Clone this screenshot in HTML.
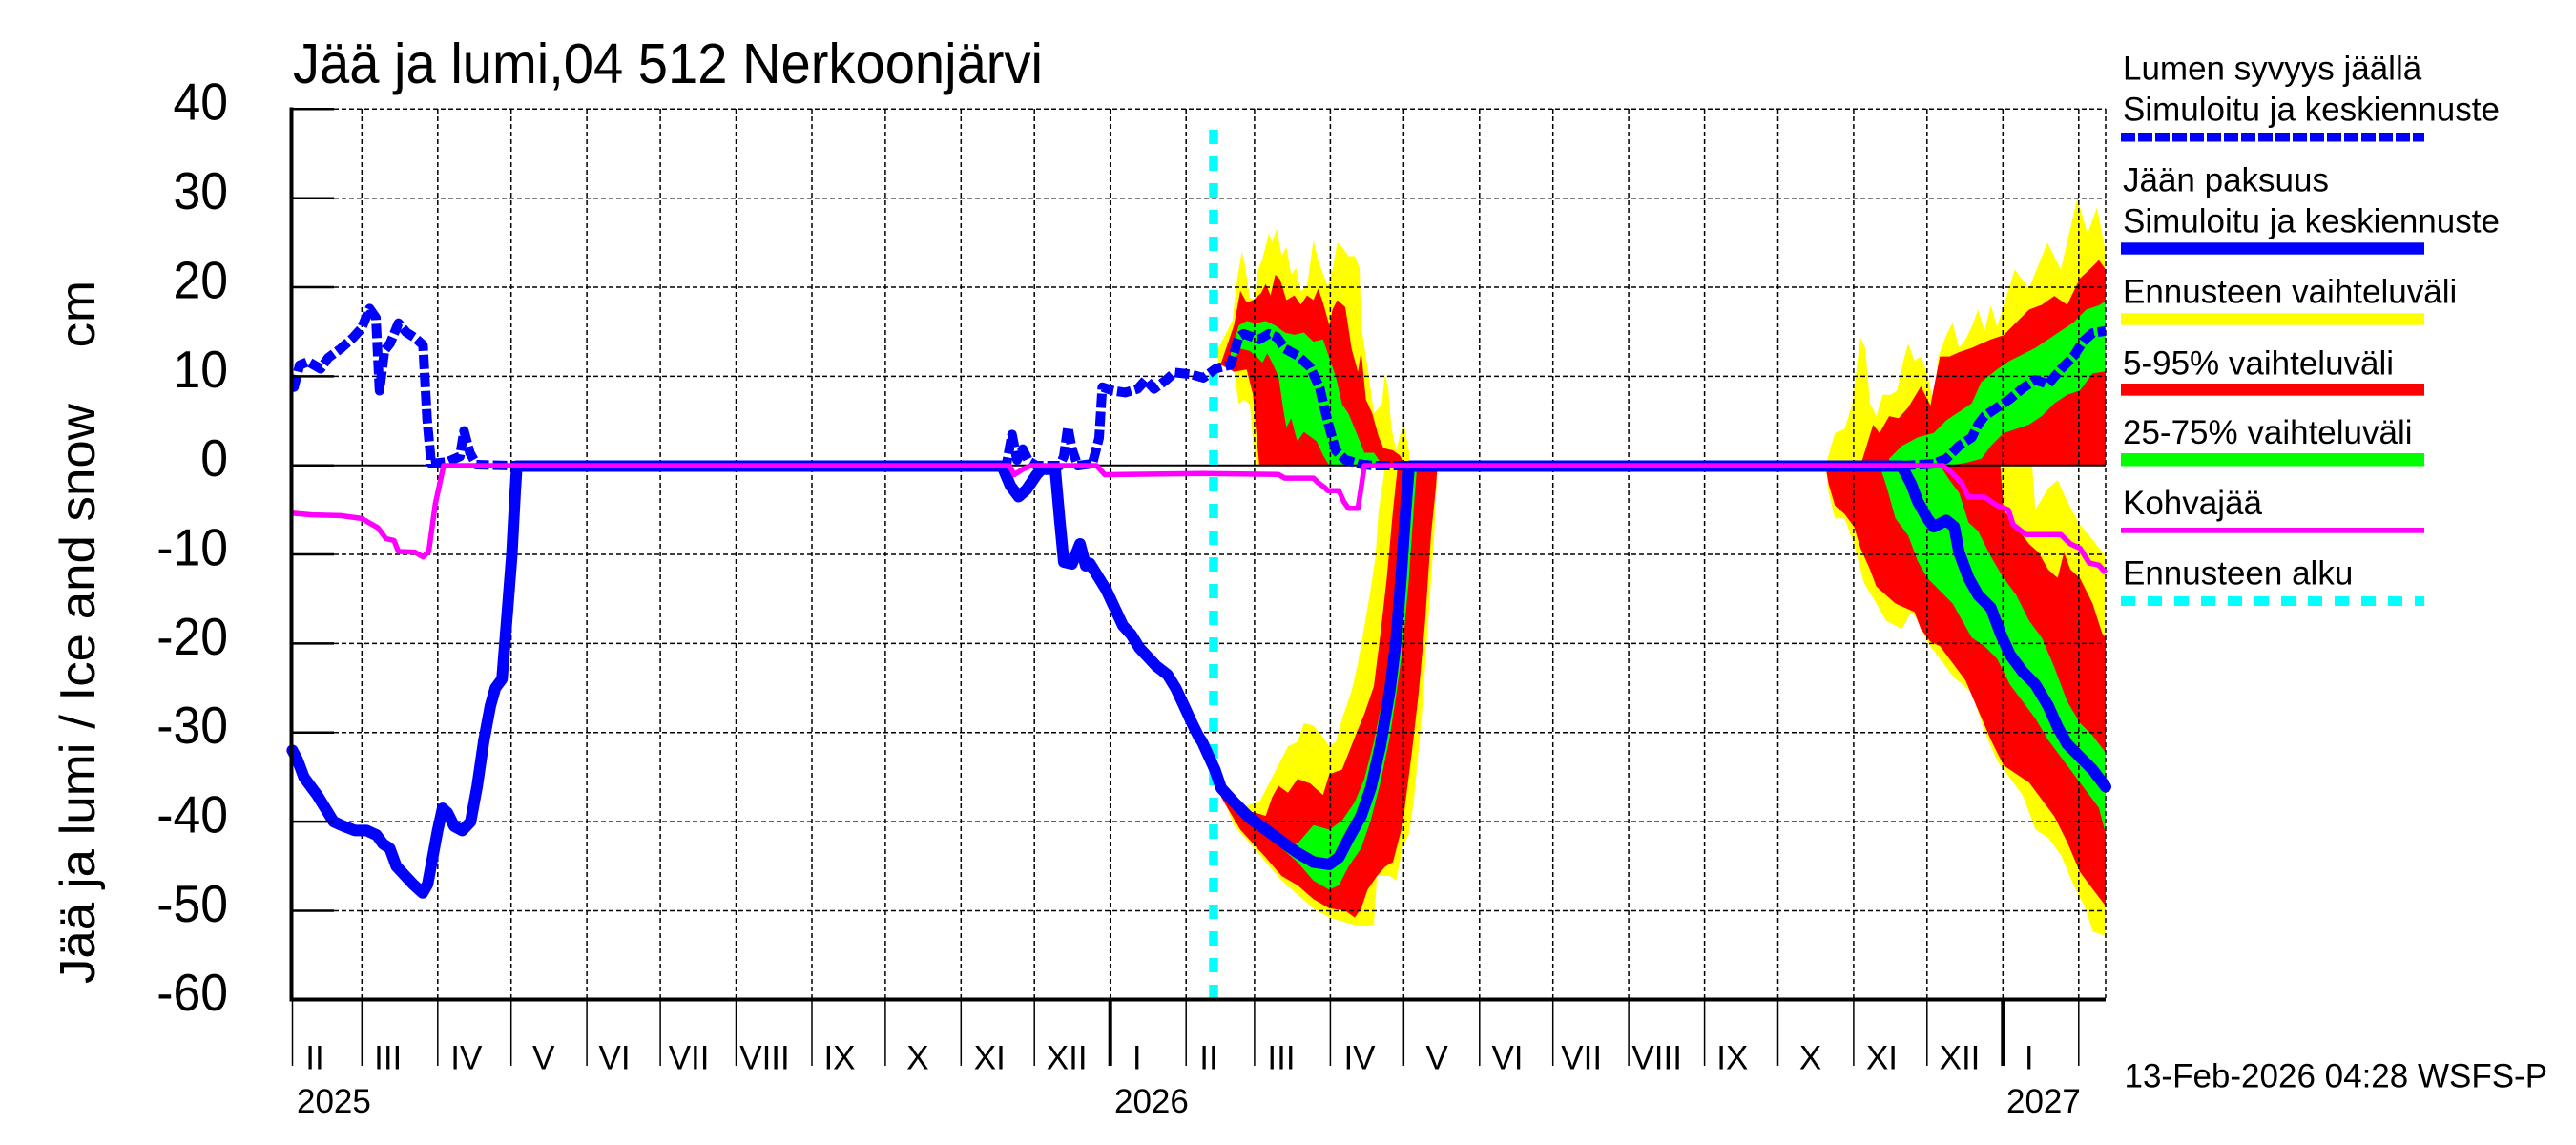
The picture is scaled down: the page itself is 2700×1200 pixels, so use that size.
<!DOCTYPE html>
<html><head><meta charset="utf-8"><style>
html,body{margin:0;padding:0;background:#fff;}
svg{display:block;}
text{font-family:"Liberation Sans",Arial,sans-serif;fill:#000;}
</style></head><body>
<svg width="2700" height="1200" viewBox="0 0 2700 1200" xmlns="http://www.w3.org/2000/svg">
<rect width="2700" height="1200" fill="#fff"/>

<!-- forecast band fills: spring 2026 -->
<g transform="translate(1260,220) scale(0.333333,0.484731)">
<polygon fill="#ffff00" points="50,300 95,240 110,150 125,90 135,120 150,190 165,195 175,130 190,105 210,50 220,70 235,40 250,100 265,80 280,140 295,125 310,175 330,165 350,65 365,110 395,165 410,130 425,70 440,80 460,100 480,100 495,125 500,250 520,340 540,440 565,420 575,355 585,385 595,470 610,520 625,480 635,465 650,520 655,553 170,553 160,500 150,420 130,410 115,420 100,345 50,335"/>
<polygon fill="#ff0000" points="60,330 100,250 120,175 140,200 160,195 185,180 200,160 215,185 230,140 245,150 265,195 290,185 310,205 330,185 350,195 365,170 380,200 400,250 410,215 425,195 450,210 470,300 490,350 500,305 515,410 535,440 555,490 570,515 600,520 620,530 635,545 640,553 180,553 175,520 160,400 140,345 100,350 60,335"/>
<polygon fill="#00ff00" points="90,310 115,250 140,240 170,245 200,240 230,250 260,265 290,270 320,265 350,285 380,280 395,310 420,360 440,420 460,440 490,490 510,525 540,525 560,545 565,553 400,553 380,530 360,500 340,490 320,480 300,500 295,490 280,450 265,470 255,430 240,360 220,330 205,310 190,330 175,320 150,305 120,300 90,340"/>
<polygon fill="#ffff00" points="60,1260 130,1290 180,1280 210,1240 240,1200 270,1160 300,1150 320,1110 350,1115 380,1140 400,1160 420,1150 440,1100 470,1040 490,980 510,900 530,820 545,750 555,650 570,580 575,553 740,553 730,700 710,900 690,1100 665,1280 650,1350 630,1380 610,1450 590,1440 550,1440 540,1545 500,1550 450,1540 400,1530 350,1510 300,1480 250,1450 200,1410 150,1370 100,1330"/>
<polygon fill="#ff0000" points="60,1265 150,1300 200,1310 220,1270 240,1245 270,1260 300,1230 340,1240 380,1265 400,1220 440,1210 480,1140 510,1090 540,1030 560,920 580,800 600,650 615,553 740,553 735,600 720,700 700,900 680,1050 660,1170 630,1330 600,1410 575,1420 550,1440 520,1470 500,1510 480,1530 450,1515 400,1510 350,1490 300,1460 250,1440 200,1400 160,1370 120,1340 60,1270"/>
<polygon fill="#00ff00" points="190,1340 250,1360 300,1370 350,1330 400,1340 440,1320 480,1280 510,1230 540,1150 570,1050 590,950 610,820 625,680 635,560 640,553 690,553 675,560 665,650 650,800 630,950 610,1050 590,1140 560,1240 530,1320 500,1380 460,1420 430,1460 400,1470 350,1450 300,1410 250,1380 190,1345"/>
</g>

<!-- forecast band fills: winter 2026-27 -->
<g transform="translate(1900,320) scale(0.333333,0.446429)">
<polygon fill="#ffff00" points="40,376 70,300 100,290 125,230 150,75 165,100 180,230 200,260 220,210 245,210 265,200 285,130 300,90 320,130 340,120 360,160 380,230 395,120 420,70 440,40 460,100 480,80 500,50 520,10 540,60 560,0 580,50 600,0 635,-84 680,-40 738,-147 780,-84 832,-252 864,-168 894,-230 921,-126 921,376"/>
<polygon fill="#ff0000" points="150,376 190,280 210,300 240,260 270,265 300,240 340,190 370,235 400,120 430,120 460,110 500,100 530,90 560,80 600,70 640,40 680,10 720,-1 760,-22 800,-1 840,-63 870,-84 900,-106 921,-84 921,376"/>
<polygon fill="#00ff00" points="240,360 280,330 330,310 380,300 420,270 460,250 500,230 530,180 580,150 620,130 660,115 700,100 740,80 780,60 820,40 860,10 900,0 921,-10 921,155 880,160 840,200 800,210 760,230 720,260 680,280 640,290 600,300 560,330 530,360 480,370 430,376 240,376"/>
<polygon fill="#ffff00" points="40,376 595,376 690,378 700,480 740,430 770,410 800,460 840,515 880,550 921,590 921,1480 880,1470 860,1420 820,1360 780,1290 740,1250 700,1230 660,1150 620,1110 580,1070 540,1000 500,910 440,870 400,830 360,790 330,740 310,720 280,760 230,740 200,700 160,650 130,560 100,500 70,500 50,440"/>
<polygon fill="#ff0000" points="40,376 590,376 600,480 640,520 680,560 710,580 740,620 770,640 790,580 810,620 840,640 880,700 910,770 921,780 921,1410 880,1370 840,1330 800,1260 760,1200 720,1160 680,1120 640,1100 600,1080 560,1020 520,950 480,880 440,840 400,800 370,790 340,760 320,720 260,700 200,660 180,620 150,570 130,520 100,490 70,470 50,420"/>
<polygon fill="#00ff00" points="210,376 400,376 430,410 460,440 490,510 520,530 560,590 600,640 640,680 680,740 720,780 760,850 800,930 840,980 880,1010 921,1050 921,1240 900,1180 860,1140 820,1100 780,1060 740,1020 700,970 660,930 620,890 580,830 540,800 500,780 470,740 440,700 400,670 360,640 330,600 300,540 260,500 230,420"/>
</g>

<!-- grid -->
<g stroke="#000" stroke-width="1.5" stroke-dasharray="5 3" fill="none">
<line x1="350" y1="114.3" x2="2207" y2="114.3"/>
<line x1="350" y1="207.7" x2="2207" y2="207.7"/>
<line x1="350" y1="301" x2="2207" y2="301"/>
<line x1="350" y1="394.4" x2="2207" y2="394.4"/>
<line x1="350" y1="581" x2="2207" y2="581"/>
<line x1="350" y1="674.4" x2="2207" y2="674.4"/>
<line x1="350" y1="767.8" x2="2207" y2="767.8"/>
<line x1="350" y1="861.1" x2="2207" y2="861.1"/>
<line x1="350" y1="954.5" x2="2207" y2="954.5"/>
<line x1="379.3" y1="114" x2="379.3" y2="1046"/>
<line x1="458.8" y1="114" x2="458.8" y2="1046"/>
<line x1="535.7" y1="114" x2="535.7" y2="1046"/>
<line x1="615.1" y1="114" x2="615.1" y2="1046"/>
<line x1="692.1" y1="114" x2="692.1" y2="1046"/>
<line x1="771.5" y1="114" x2="771.5" y2="1046"/>
<line x1="851" y1="114" x2="851" y2="1046"/>
<line x1="927.9" y1="114" x2="927.9" y2="1046"/>
<line x1="1007.3" y1="114" x2="1007.3" y2="1046"/>
<line x1="1084.2" y1="114" x2="1084.2" y2="1046"/>
<line x1="1163.7" y1="114" x2="1163.7" y2="1046"/>
<line x1="1243.2" y1="114" x2="1243.2" y2="1046"/>
<line x1="1314.9" y1="114" x2="1314.9" y2="1046"/>
<line x1="1394.4" y1="114" x2="1394.4" y2="1046"/>
<line x1="1471.3" y1="114" x2="1471.3" y2="1046"/>
<line x1="1550.8" y1="114" x2="1550.8" y2="1046"/>
<line x1="1627.7" y1="114" x2="1627.7" y2="1046"/>
<line x1="1707.1" y1="114" x2="1707.1" y2="1046"/>
<line x1="1786.6" y1="114" x2="1786.6" y2="1046"/>
<line x1="1863.5" y1="114" x2="1863.5" y2="1046"/>
<line x1="1942.9" y1="114" x2="1942.9" y2="1046"/>
<line x1="2019.8" y1="114" x2="2019.8" y2="1046"/>
<line x1="2099.3" y1="114" x2="2099.3" y2="1046"/>
<line x1="2178.8" y1="114" x2="2178.8" y2="1046"/>
<line x1="2207" y1="114" x2="2207" y2="1046"/>
</g>
<!-- zero line -->
<line x1="305" y1="487.8" x2="2207" y2="487.8" stroke="#000" stroke-width="2"/>

<!-- forecast start -->
<line x1="1272" y1="1047" x2="1272" y2="124" stroke="#00ffff" stroke-width="9.5" stroke-dasharray="15 13"/>

<!-- ice thickness -->
<polyline fill="none" stroke="#0000ff" stroke-width="12" stroke-linejoin="round" stroke-linecap="round" points="306.4,786.4 311.5,795.8 318.5,814.4 325.4,823.8 332.3,833.1 341,847.1 349.6,861.1 360,865.8 372.1,870.4 384.2,870.4 394.6,875.1 401.5,884.4 408.5,889.1 415.4,907.8 424,917.1 432.7,926.4 443,935.8 448.3,926.4 453.5,898.4 458.7,870.4 463.9,847.1 469,851.8 476,865.8 484.6,870.4 493.3,861.1 500.2,823.8 507,777.1 514,739.7 519.2,721.1 526.2,711.7 531.4,646.4 536.5,581.1 540,515.7 541.7,488.5 1050.4,488.5 1059,509 1067.6,520.5 1076,513 1086.5,497.5 1091.7,491.8 1106,491.8 1110.6,543.4 1115,589 1123.6,591 1132,570 1138,593 1142.3,590.4 1151,604.4 1159.6,618.4 1168.3,637.1 1177,655.7 1185.6,665.1 1194.3,679.1 1203,688.4 1211.6,697.7 1223.7,707.1 1232.3,721.1 1241,739.7 1249.6,758.4 1256.6,772.4 1260,777.4 1273.3,806.5 1280,825.9 1293.3,840.5 1310,857.4 1326.7,869.5 1343.3,881.7 1360,893.8 1376.7,903.5 1393.3,905.9 1403.3,898.6 1413.3,879.2 1426.7,855 1436.7,825.9 1446.7,782.3 1456.7,724.1 1463.3,670.8 1468.3,607.8 1473.3,535.1 1476.7,491.5 1478.3,488.5 1993.3,488.5 2003.3,507.5 2010,525.4 2020,543.2 2026.7,552.1 2040,545.4 2048.3,552.1 2053.3,578.9 2063.3,605.7 2073.3,623.6 2086.7,637 2096.7,663.8 2106.7,686.1 2120,703.9 2133.3,717.3 2146.7,739.6 2156.7,762 2166.7,779.8 2180,793.2 2193.3,806.6 2207,824.5"/>

<!-- snow depth -->
<polyline fill="none" stroke="#0000ff" stroke-width="10" stroke-dasharray="15 4" stroke-linejoin="round" points="306,405 308.2,405.7 314,382.7 323,379 336,386.5 344,375 357,365.5 370,354 379,344 387.4,323.4 394,333 397.8,409.5 403,367.4 409,359.7 417.6,338.7 426,348.3 434.8,354 443.4,361.6 447.7,440 452,486 469,484 482,478.4 486.4,451.6 492.5,474.5 499.4,487 538,488 1054.7,488 1060.7,455.4 1066,482 1072,470.7 1078,483 1086.5,488 1110.6,488 1115,478.4 1119.3,447.8 1123.6,470.7 1129.6,488 1145,486 1152,459 1155.4,405.7 1166.6,409.5 1179.5,411.4 1192.4,407.6 1201,398 1209.6,407.6 1222.6,398 1231,390.4 1248.4,392.3 1261.3,396 1274.2,386.5 1280,384.8 1290,382.4 1298.3,353.3 1303.3,349.9 1313.3,353.3 1320,355.7 1330,349.9 1338.3,353.3 1346.7,365.4 1360,372.7 1373.3,384.8 1383.3,406.6 1388.3,428.4 1393.3,447.8 1400,472.1 1410,481.8 1426.7,486.6 1440,488 1993.3,488 2026.7,486.1 2040,480.7 2053.3,467.3 2066.7,458.4 2073.3,445 2080,436.1 2093.3,427.1 2106.7,418.2 2120,407 2133.3,398.1 2146.7,402.6 2160,387 2173.3,373.6 2183.3,357.9 2193.3,349 2207,346.8"/>

<!-- kohvajää -->
<polyline fill="none" stroke="#ff00ff" stroke-width="5.5" stroke-linejoin="round" points="306,537.7 327,539.6 357,540.4 379,543.4 396,553 404.6,564.5 413,566.4 417.6,578 434.8,578.6 443.4,583.6 449.4,578 456.3,528 465,488 1058,488 1063,497.5 1072,491.8 1080.5,488 1149.4,488 1158,497.5 1260,496.3 1340,497.3 1346.7,501.1 1376.7,501.1 1381.7,506 1388.3,510.8 1391.7,514.2 1403.3,514.2 1408.3,525.4 1413.3,532.7 1423.3,532.7 1426.7,510.8 1430,488 2036.7,488 2046.7,496.3 2056.7,507.5 2063.3,520.9 2080,520.9 2093.3,529.8 2105,534.3 2110,549.9 2123.3,560.2 2160,560.2 2170,570 2180,574.5 2190,590.1 2200,592.3 2207,600.4"/>

<!-- axes -->
<line x1="305.5" y1="112.5" x2="305.5" y2="1049.5" stroke="#000" stroke-width="4"/>
<line x1="303.5" y1="1047.5" x2="2207" y2="1047.5" stroke="#000" stroke-width="4"/>
<g stroke="#000" stroke-width="2.5">
<line x1="305" y1="114.3" x2="350" y2="114.3"/>
<line x1="305" y1="207.7" x2="350" y2="207.7"/>
<line x1="305" y1="301" x2="350" y2="301"/>
<line x1="305" y1="394.4" x2="350" y2="394.4"/>
<line x1="305" y1="487.8" x2="350" y2="487.8"/>
<line x1="305" y1="581" x2="350" y2="581"/>
<line x1="305" y1="674.4" x2="350" y2="674.4"/>
<line x1="305" y1="767.8" x2="350" y2="767.8"/>
<line x1="305" y1="861.1" x2="350" y2="861.1"/>
<line x1="305" y1="954.5" x2="350" y2="954.5"/>
</g>
<!-- month ticks below axis -->
<g stroke="#000" stroke-width="1.5">
<line x1="306.5" y1="1049" x2="306.5" y2="1117"/>
<line x1="379.3" y1="1049" x2="379.3" y2="1117"/>
<line x1="458.8" y1="1049" x2="458.8" y2="1117"/>
<line x1="535.7" y1="1049" x2="535.7" y2="1117"/>
<line x1="615.1" y1="1049" x2="615.1" y2="1117"/>
<line x1="692.1" y1="1049" x2="692.1" y2="1117"/>
<line x1="771.5" y1="1049" x2="771.5" y2="1117"/>
<line x1="851" y1="1049" x2="851" y2="1117"/>
<line x1="927.9" y1="1049" x2="927.9" y2="1117"/>
<line x1="1007.3" y1="1049" x2="1007.3" y2="1117"/>
<line x1="1084.2" y1="1049" x2="1084.2" y2="1117"/>
<line x1="1243.2" y1="1049" x2="1243.2" y2="1117"/>
<line x1="1314.9" y1="1049" x2="1314.9" y2="1117"/>
<line x1="1394.4" y1="1049" x2="1394.4" y2="1117"/>
<line x1="1471.3" y1="1049" x2="1471.3" y2="1117"/>
<line x1="1550.8" y1="1049" x2="1550.8" y2="1117"/>
<line x1="1627.7" y1="1049" x2="1627.7" y2="1117"/>
<line x1="1707.1" y1="1049" x2="1707.1" y2="1117"/>
<line x1="1786.6" y1="1049" x2="1786.6" y2="1117"/>
<line x1="1863.5" y1="1049" x2="1863.5" y2="1117"/>
<line x1="1942.9" y1="1049" x2="1942.9" y2="1117"/>
<line x1="2019.8" y1="1049" x2="2019.8" y2="1117"/>
<line x1="2178.8" y1="1049" x2="2178.8" y2="1117"/>
</g>
<g stroke="#000" stroke-width="4">
<line x1="1163.7" y1="1049" x2="1163.7" y2="1117"/>
<line x1="2099.3" y1="1049" x2="2099.3" y2="1117"/>
</g>

<!-- title -->
<text x="307" y="86.8" font-size="59" textLength="786" lengthAdjust="spacingAndGlyphs">Jää ja lumi,04 512 Nerkoonjärvi</text>

<!-- y tick labels -->
<g font-size="55" text-anchor="end">
<text transform="translate(239,125.7) scale(0.94,1)">40</text>
<text transform="translate(239,219.1) scale(0.94,1)">30</text>
<text transform="translate(239,312.4) scale(0.94,1)">20</text>
<text transform="translate(239,405.8) scale(0.94,1)">10</text>
<text transform="translate(239,499.2) scale(0.94,1)">0</text>
<text transform="translate(239,592.4) scale(0.94,1)">-10</text>
<text transform="translate(239,685.8) scale(0.94,1)">-20</text>
<text transform="translate(239,779.2) scale(0.94,1)">-30</text>
<text transform="translate(239,872.5) scale(0.94,1)">-40</text>
<text transform="translate(239,965.9) scale(0.94,1)">-50</text>
<text transform="translate(239,1059.2) scale(0.94,1)">-60</text>
</g>

<!-- y axis label -->
<text transform="translate(99,1031) rotate(-90)" font-size="52" style="white-space:pre" textLength="737" lengthAdjust="spacingAndGlyphs">Jää ja lumi / Ice and snow    cm</text>

<!-- month labels -->
<g font-size="35" text-anchor="middle">
<text x="330" y="1120.7">II</text>
<text x="406.7" y="1120.7">III</text>
<text x="488.8" y="1120.7">IV</text>
<text x="569.7" y="1120.7">V</text>
<text x="644.1" y="1120.7">VI</text>
<text x="722.1" y="1120.7">VII</text>
<text x="801.5" y="1120.7">VIII</text>
<text x="880" y="1120.7">IX</text>
<text x="961.9" y="1120.7">X</text>
<text x="1037.3" y="1120.7">XI</text>
<text x="1118.2" y="1120.7">XII</text>
<text x="1191.7" y="1120.7">I</text>
<text x="1267" y="1120.7">II</text>
<text x="1343" y="1120.7">III</text>
<text x="1425" y="1120.7">IV</text>
<text x="1506" y="1120.7">V</text>
<text x="1580" y="1120.7">VI</text>
<text x="1657.7" y="1120.7">VII</text>
<text x="1736.7" y="1120.7">VIII</text>
<text x="1815.8" y="1120.7">IX</text>
<text x="1897.5" y="1120.7">X</text>
<text x="1972.5" y="1120.7">XI</text>
<text x="2054" y="1120.7">XII</text>
<text x="2126.7" y="1120.7">I</text>
</g>
<g font-size="35">
<text x="311" y="1166">2025</text>
<text x="1168" y="1166">2026</text>
<text x="2103" y="1166">2027</text>
</g>

<!-- legend -->
<g font-size="35">
<text x="2225" y="83.3">Lumen syvyys jäällä</text>
<text x="2225" y="126.7">Simuloitu ja keskiennuste</text>
<text x="2225" y="200.7">Jään paksuus</text>
<text x="2225" y="243.3">Simuloitu ja keskiennuste</text>
<text x="2225" y="317.3">Ennusteen vaihteluväli</text>
<text x="2225" y="392.3">5-95% vaihteluväli</text>
<text x="2225" y="465">25-75% vaihteluväli</text>
<text x="2225" y="539">Kohvajää</text>
<text x="2225" y="612.3">Ennusteen alku</text>
</g>
<line x1="2223" y1="143.7" x2="2541" y2="143.7" stroke="#0000ff" stroke-width="9.5" stroke-dasharray="15 3"/>
<rect x="2223" y="254.3" width="318" height="12.4" fill="#0000ff"/>
<rect x="2223" y="328.3" width="318" height="12.4" fill="#ffff00"/>
<rect x="2223" y="402" width="318" height="12.7" fill="#ff0000"/>
<rect x="2223" y="475" width="318" height="13.5" fill="#00ff00"/>
<rect x="2223" y="553" width="318" height="5.7" fill="#ff00ff"/>
<line x1="2223" y1="630" x2="2541" y2="630" stroke="#00ffff" stroke-width="10" stroke-dasharray="15 13"/>

<!-- footer -->
<text x="2226.5" y="1139.6" font-size="35">13-Feb-2026 04:28 WSFS-P</text>
</svg>
</body></html>
